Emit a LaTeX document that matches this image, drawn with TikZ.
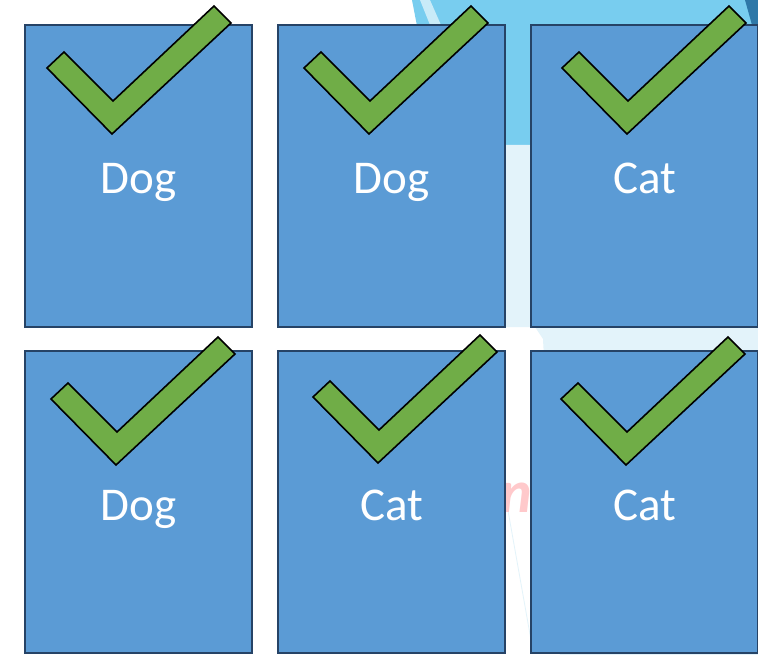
\documentclass[tikz,border=0pt]{standalone}
\usepackage{fontspec}
\setmainfont{Carlito}
\definecolor{boxfill}{HTML}{5B9BD5}
\definecolor{boxedge}{HTML}{264366}
\definecolor{checkgreen}{HTML}{70AD47}
\definecolor{skyblue}{HTML}{78CDEF}
\definecolor{paleblue}{HTML}{E3F3FA}
\definecolor{deepblue}{HTML}{2E78A8}
\definecolor{pinkmark}{HTML}{FFC9CB}
\tikzset{
  cardbox/.style={draw=boxedge, line width=2.8pt, fill=boxfill, minimum width=227pt, minimum height=302pt, inner sep=0pt},
  cardtext/.style={anchor=base, text=white, font=\fontsize{47}{56}\selectfont, inner sep=0pt},
  checkstyle/.style={draw=black, line width=1.6pt, fill=checkgreen, line join=miter},
  checkmark/.pic={\draw[checkstyle] (22,43)--(39,27)--(88,76)--(189,-19)--(206,-2)--(87,109)--cycle;}
}
\begin{document}
\begin{tikzpicture}[x=1pt,y=-1pt]
\useasboundingbox (0,0) rectangle (758,655);
\fill[white] (0,0) rectangle (758,655);
% background decoration
\fill[skyblue] (412,0) -- (758,0) -- (758,145) -- (440,145) -- cycle;
\fill[white, opacity=0.6] (420,0) -- (430,0) -- (441,25) -- (430,25) -- cycle;
\fill[deepblue] (745,0) -- (758,0) -- (758,25) -- (752,25) -- cycle;
\fill[paleblue] (440,145) -- (758,145) -- (758,655) -- (560,655) -- (543,339) -- (535,327) -- (440,327) -- cycle;
\draw[paleblue, line width=0.8pt] (507,505) -- (531,640);
\node[text=pinkmark, font=\fontsize{60}{60}\selectfont\bfseries\itshape, anchor=base, inner sep=0pt] (wm) at (516,512) {n};
% cards
\node[cardbox] (b1) at (138.5,176) {};
\node[cardbox] (b2) at (391.5,176) {};
\node[cardbox] (b3) at (644.5,176) {};
\node[cardbox] (b4) at (138.5,502) {};
\node[cardbox] (b5) at (391.5,502) {};
\node[cardbox] (b6) at (644.5,502) {};
% labels
\node[cardtext] (t1) at (b1.center |- 0,194) {Dog};
\node[cardtext] (t2) at (b2.center |- 0,194) {Dog};
\node[cardtext] (t3) at (b3.center |- 0,194) {Cat};
\node[cardtext] (t4) at (b4.center |- 0,520) {Dog};
\node[cardtext] (t5) at (b5.center |- 0,520) {Cat};
\node[cardtext] (t6) at (b6.center |- 0,520) {Cat};
% check marks
\pic at (25,25) {checkmark};
\pic at (282,25) {checkmark};
\pic at (540,25) {checkmark};
\pic at (29,356) {checkmark};
\pic at (291,354) {checkmark};
\pic at (539,356) {checkmark};
\end{tikzpicture}
\end{document}
